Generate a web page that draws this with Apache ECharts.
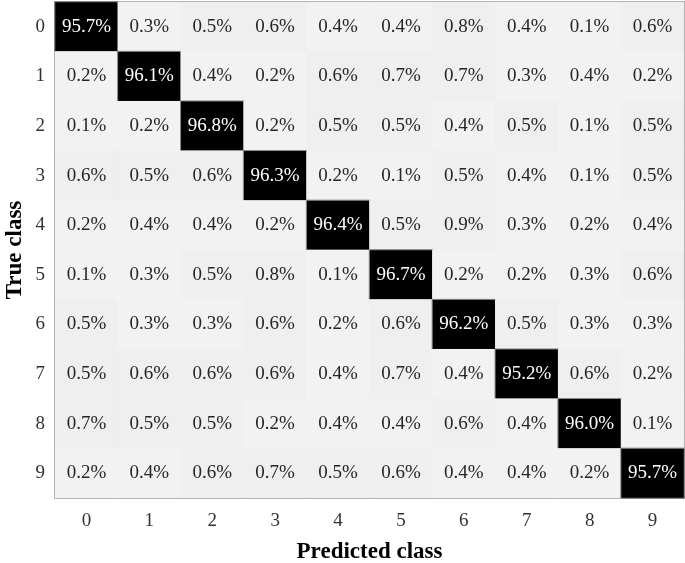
<!DOCTYPE html>
<html><head><meta charset="utf-8">
<script src="https://cdn.jsdelivr.net/npm/echarts@6/dist/echarts.min.js"></script>
<style>html,body{margin:0;padding:0;background:#fff}#c{width:685px;height:563px}</style>
</head><body><div id="c"></div>
<script>
const classes = ['0','1','2','3','4','5','6','7','8','9'];
const row0 = [95.7,0.3,0.5,0.6,0.4,0.4,0.8,0.4,0.1,0.6];
const row1 = [0.2,96.1,0.4,0.2,0.6,0.7,0.7,0.3,0.4,0.2];
const row2 = [0.1,0.2,96.8,0.2,0.5,0.5,0.4,0.5,0.1,0.5];
const row3 = [0.6,0.5,0.6,96.3,0.2,0.1,0.5,0.4,0.1,0.5];
const row4 = [0.2,0.4,0.4,0.2,96.4,0.5,0.9,0.3,0.2,0.4];
const row5 = [0.1,0.3,0.5,0.8,0.1,96.7,0.2,0.2,0.3,0.6];
const row6 = [0.5,0.3,0.3,0.6,0.2,0.6,96.2,0.5,0.3,0.3];
const row7 = [0.5,0.6,0.6,0.6,0.4,0.7,0.4,95.2,0.6,0.2];
const row8 = [0.7,0.5,0.5,0.2,0.4,0.4,0.6,0.4,96.0,0.1];
const row9 = [0.2,0.4,0.6,0.7,0.5,0.6,0.4,0.4,0.2,95.7];
const rows = [row0,row1,row2,row3,row4,row5,row6,row7,row8,row9];

const data = [];
rows.forEach((r, i) => r.forEach((v, j) => {
  const diag = i === j;
  data.push({
    value: [j, i, v],
    itemStyle: diag ? {color:'#000', borderColor:'#888', borderWidth:1}
                    : {color: v >= 0.5 ? '#efefef' : '#f2f2f2'},
    label: {color: diag ? '#fff' : '#262626'}
  });
}));

const font = "'Liberation Serif', 'DejaVu Serif', serif";
const chart = echarts.init(document.getElementById('c'));
chart.setOption({
  animation: false,
  grid: {left:55, top:2, right:1, bottom:65, outerBoundsMode:'none', containLabel:false,
    show:true, borderColor:'#808080', borderWidth:1.5, backgroundColor:'transparent'},
  xAxis: {type:'category', data:classes, name:'Predicted class', nameLocation:'middle', nameGap:43,
    nameMoveOverlap:false,
    nameTextStyle:{fontFamily:font, fontSize:23, fontWeight:'bold', color:'#000'},
    axisLine:{show:false}, axisTick:{show:false}, splitLine:{show:false},
    axisLabel:{fontFamily:font, fontSize:19, color:'#333', margin:14}},
  yAxis: {type:'category', data:classes, inverse:true, name:'True class', nameLocation:'middle', nameGap:28,
    nameMoveOverlap:false,
    nameTextStyle:{fontFamily:font, fontSize:23, fontWeight:'bold', color:'#000'},
    axisLine:{show:false}, axisTick:{show:false}, splitLine:{show:false},
    axisLabel:{fontFamily:font, fontSize:19, color:'#333', margin:10}},
  series: [{
    type:'heatmap', data:data,
    label:{show:true, fontFamily:font, fontSize:19, formatter: p => p.value[2].toFixed(1) + '%'},
    emphasis:{disabled:true}
  }]
});
</script></body></html>
